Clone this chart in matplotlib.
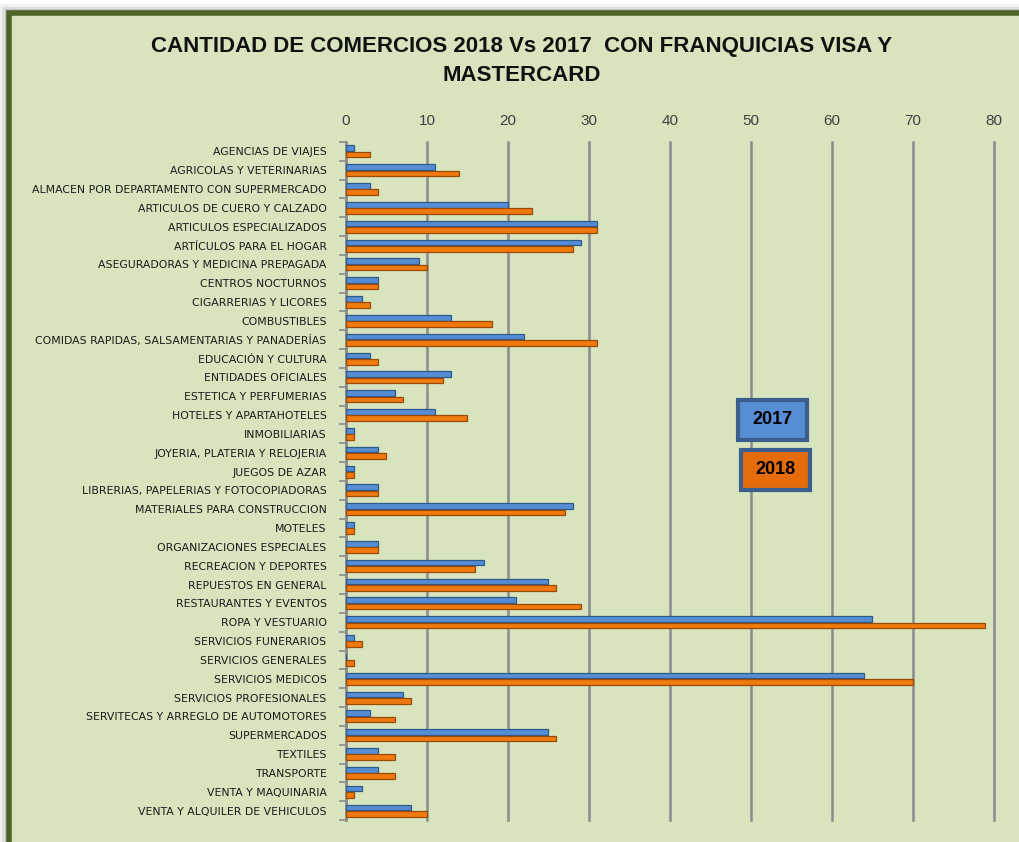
import matplotlib
matplotlib.use("Agg")
import matplotlib.pyplot as plt
from matplotlib.patches import Rectangle
import numpy as np

# ---------------------------------------------------------
# data
# ---------------------------------------------------------
categories = [
    "AGENCIAS DE VIAJES",
    "AGRICOLAS Y VETERINARIAS",
    "ALMACEN POR DEPARTAMENTO CON SUPERMERCADO",
    "ARTICULOS DE CUERO Y CALZADO",
    "ARTICULOS ESPECIALIZADOS",
    "ARTÍCULOS PARA EL HOGAR",
    "ASEGURADORAS Y MEDICINA PREPAGADA",
    "CENTROS NOCTURNOS",
    "CIGARRERIAS Y LICORES",
    "COMBUSTIBLES",
    "COMIDAS RAPIDAS, SALSAMENTARIAS Y PANADERÍAS",
    "EDUCACIÓN Y CULTURA",
    "ENTIDADES OFICIALES",
    "ESTETICA Y PERFUMERIAS",
    "HOTELES Y APARTAHOTELES",
    "INMOBILIARIAS",
    "JOYERIA, PLATERIA Y RELOJERIA",
    "JUEGOS DE AZAR",
    "LIBRERIAS, PAPELERIAS Y FOTOCOPIADORAS",
    "MATERIALES PARA CONSTRUCCION",
    "MOTELES",
    "ORGANIZACIONES ESPECIALES",
    "RECREACION Y DEPORTES",
    "REPUESTOS EN GENERAL",
    "RESTAURANTES Y EVENTOS",
    "ROPA Y VESTUARIO",
    "SERVICIOS FUNERARIOS",
    "SERVICIOS GENERALES",
    "SERVICIOS MEDICOS",
    "SERVICIOS PROFESIONALES",
    "SERVITECAS Y ARREGLO DE AUTOMOTORES",
    "SUPERMERCADOS",
    "TEXTILES",
    "TRANSPORTE",
    "VENTA Y MAQUINARIA",
    "VENTA Y ALQUILER DE VEHICULOS",
]

v2017 = [1, 11, 3, 20, 31, 29, 9, 4, 2, 13, 22, 3, 13, 6, 11, 1, 4, 1, 4,
         28, 1, 4, 17, 25, 21, 65, 1, 0, 64, 7, 3, 25, 4, 4, 2, 8]
v2018 = [3, 14, 4, 23, 31, 28, 10, 4, 3, 18, 31, 4, 12, 7, 15, 1, 5, 1, 4,
         27, 1, 4, 16, 26, 29, 79, 2, 1, 70, 8, 6, 26, 6, 6, 1, 10]

x_ticks = list(range(0, 81, 10))
title = "CANTIDAD DE COMERCIOS 2018 Vs 2017  CON FRANQUICIAS VISA Y\nMASTERCARD"

# ---------------------------------------------------------
# style
# ---------------------------------------------------------
BG = "#D8E4BE"
FRAME = "#4F6228"
BLUE = "#558ED5"
BLUE_EDGE = "#2F5A8C"
ORANGE = "#F07A10"
ORANGE_EDGE = "#9A4A05"
GRID = "#8C8C8C"
FONT = ["Liberation Sans", "DejaVu Sans"]

fig = plt.figure(figsize=(10.19, 8.42), dpi=100)
fig.patch.set_facecolor("white")

# chart frame with a soft shadow (Excel look)
for i, a in enumerate([0.08, 0.13, 0.20]):
    off = (3 - i) * 0.003
    fig.patches.append(Rectangle((0.008 - off, -0.02), 1.1, 1.006 + off,
                                 transform=fig.transFigure, facecolor="#5A5A5A",
                                 alpha=a, edgecolor="none", zorder=-3))
fig.patches.append(Rectangle((0.009, -0.02), 1.1, 1.005,
                             transform=fig.transFigure, facecolor=BG,
                             edgecolor=FRAME, linewidth=4, zorder=-2))

ax = fig.add_axes([0.3395, 0.0261, 0.6355, 0.8053])
ax.set_facecolor("none")
ax.set_zorder(2)

n = len(categories)
y = np.arange(n)
h = 0.30
off = 0.17

ax.barh(y - off, v2017, height=h, color=BLUE, edgecolor=BLUE_EDGE,
        linewidth=0.9, zorder=3)
ax.barh(y + off, v2018, height=h, color=ORANGE, edgecolor=ORANGE_EDGE,
        linewidth=0.9, zorder=3)

ax.set_xlim(0, 80)
ax.set_ylim(n - 0.5, -0.5)
ax.xaxis.tick_top()
ax.set_xticks(x_ticks)
ax.set_xticklabels([str(t) for t in x_ticks], fontsize=11, color="#404040",
                   family=FONT)
ax.tick_params(axis="x", length=0, pad=10)
ax.grid(axis="x", color=GRID, linewidth=1.8, zorder=1)
for gl in ax.get_xgridlines():
    gl.set_clip_on(False)

ax.set_yticks(y)
ax.set_yticklabels(categories, fontsize=7.8, color="#1A1A1A")
ax.tick_params(axis="y", which="major", length=0, pad=14)
ax.set_yticks(np.arange(-0.5, n, 1.0), minor=True)
ax.tick_params(axis="y", which="minor", length=5, color=GRID, width=1.2)

for s in ["top", "right", "bottom"]:
    ax.spines[s].set_visible(False)
ax.spines["left"].set_color(GRID)
ax.spines["left"].set_linewidth(1.8)

# title
fig.text(0.512, 0.957, title, ha="center", va="top", fontsize=16,
         fontweight="bold", family=FONT, linespacing=1.5, color="#111111",
         zorder=10)

# legend boxes
def legend_box(x0, y0, w, hh, color, label):
    fig.patches.append(Rectangle((x0, y0), w, hh, transform=fig.transFigure,
                                 facecolor=color, edgecolor="#3B5E8C",
                                 linewidth=3, zorder=5))
    fig.text(x0 + w / 2, y0 + hh / 2, label, ha="center", va="center",
             fontsize=13, fontweight="bold", family=FONT, zorder=6)

legend_box(738 / 1019, 1 - 440 / 842, 69 / 1019, 40 / 842, BLUE, "2017")
legend_box(741 / 1019, 1 - 490 / 842, 69 / 1019, 40 / 842, "#E46C0A", "2018")

fig.savefig("out.png", dpi=100, facecolor=fig.get_facecolor())
